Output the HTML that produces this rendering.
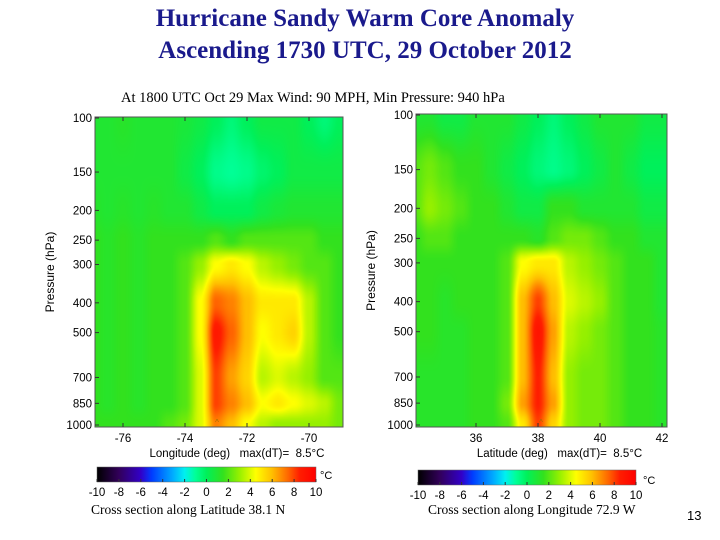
<!DOCTYPE html>
<html><head><meta charset="utf-8"><style>
body{margin:0;width:720px;height:540px;background:#fff;position:relative;overflow:hidden;font-family:"Liberation Sans",sans-serif}
.t{position:absolute;white-space:nowrap}
.title{font-family:"Liberation Serif",serif;font-weight:bold;font-size:25px;color:#1a1a8c;left:0;width:730px;text-align:center}
.ser{font-family:"Liberation Serif",serif}
canvas{position:absolute}
svg text{white-space:pre}
</style></head><body>
<div class="t title" style="top:5px">Hurricane Sandy Warm Core Anomaly</div>
<div class="t title" style="top:37px">Ascending 1730 UTC, 29 October 2012</div>
<div class="t ser" style="left:121px;top:90px;font-size:14.5px">At 1800 UTC Oct 29 Max Wind: 90 MPH, Min Pressure: 940 hPa</div>
<canvas id="c1" width="248" height="310" style="left:95px;top:117px"></canvas>
<canvas id="c2" width="251" height="313" style="left:416px;top:114px"></canvas>
<svg id="ov" width="720" height="540" style="position:absolute;left:0;top:0"></svg>
<div class="t ser" style="left:91px;top:502px;font-size:13.5px">Cross section along Latitude 38.1 N</div>
<div class="t ser" style="left:428px;top:502px;font-size:13.5px">Cross section along Longitude 72.9 W</div>
<div class="t" style="left:687px;top:508px;font-size:13px">13</div>
<script>
const levels=[100,150,200,250,300,400,500,700,850,1000];
const lons=[-77,-76.5,-76,-75.5,-75,-74.5,-74,-73.5,-73,-72.5,-72,-71.5,-71,-70.5,-70,-69.5,-69];
const lats=[34,34.5,35,35.5,36,36.5,37,37.5,38,38.5,39,39.5,40,40.5,41,41.5,42];
const leftVals=[
[1,1,1.2,1,1,1,0.8,0.5,0,-0.5,0,0.5,0.5,0.5,0,-0.5,0],
[1,1,1,1,1,1,0.5,0,-0.8,-1,-0.8,-0.3,0,0.5,0.5,0.5,0.5],
[1.2,1,1.2,1,1.2,1,1,0.5,0,0,0,0.5,0.8,1,1,1,1],
[1.5,1.2,1.5,1.2,1.5,1.5,1.5,1.5,2,1.5,2,2,2,2,2,1.5,1.5],
[1.5,1.2,1.5,1.2,1.5,1.5,2,3,4.5,5,4.5,3.5,3,2.5,2,2,1.5],
[1.5,1.2,1.5,1.2,1.5,1.5,2,4.5,7.5,7,6,5,5,5,3.5,2,1.5],
[1.5,1.2,1.5,1.2,1.5,1.5,2,4.5,8.8,7.5,6,4.5,5,5.5,3.5,2,1.5],
[1.5,1.2,1.5,1.2,1.5,1.5,2,4,8,6.5,5.5,3.5,4,3.5,3,2,2],
[1.5,1.2,1.5,1.2,1.5,1.5,2,4,8,7,6,4.5,5,4.5,4,3.5,2.5],
[1.5,1.5,1.5,1.5,1.5,2,2.5,4,7,6,4.5,3.5,3,3,3,3,2.5]];
const rightVals=[
[1,1,0.5,0.5,1,1,1,0.5,0,-0.5,0,0.5,1,1,1,0.5,0.5],
[2,2.5,2,1.5,1.5,1,0.5,0,-0.5,-0.8,-0.5,0,0.5,1,0.5,0,0],
[2,3,2.5,2,1.5,1.5,1,0.5,0.5,1.5,1.5,1,1,1,1,0.5,0.5],
[1.5,2,2,1.5,1.5,1.5,1.5,1.5,1.2,2,2.5,2.5,2,1.5,1.5,1,1],
[1.5,1.5,1.5,1.5,1.5,1.5,2,4.5,5,5,3.5,3,2.5,2,1.5,1.5,1],
[1.5,1.5,1.2,1.5,1.5,1.5,2,6,8,6,4,3.5,3,2,1.5,1.5,1],
[1.5,1.5,1.2,1.2,1.5,1.5,2,6,9,6.5,3.5,3,2.5,2,1.5,1.5,1.2],
[1.2,1.2,1.2,1.2,1.5,1.5,2,6,8.5,6,3,2.5,2.5,2,1.5,1.5,1.2],
[1.2,1.2,1.2,1.2,1.5,1.5,2.5,6.5,8.5,6.5,3,2.5,2.5,2,1.5,1.5,1.2],
[1.2,1.2,1.2,1.2,1.5,1.5,2,5,8,5.5,3,2.5,2.5,2,1.5,1.5,1.2]];
const leftTicks=[-76,-74,-72,-70];
const rightTicks=[36,38,40,42];
const cbTicks=[-10,-8,-6,-4,-2,0,2,4,6,8,10];

const stops=[[-10,[0,0,0]],[-8,[50,0,90]],[-6,[50,0,200]],[-5,[0,60,255]],[-3,[0,176,255]],[-2,[0,240,240]],[-1,[0,255,150]],[0,[0,240,90]],[1.5,[50,225,30]],[3,[150,240,0]],[4.5,[255,255,0]],[6,[255,190,0]],[7.5,[255,100,0]],[8.5,[255,30,0]],[10,[255,0,0]]];
function cmap(v){v=Math.max(-10,Math.min(10,v));for(let i=1;i<stops.length;i++){if(v<=stops[i][0]){const a=stops[i-1],b=stops[i],t=(v-a[0])/(b[0]-a[0]);return a[1].map((c,k)=>Math.round(c+(b[1][k]-c)*t));}}return stops[stops.length-1][1];}

function panel(id,xs,vals,x0,pxPerDeg,y0,y1,cx,cy){
  const cv=document.getElementById(id),ctx=cv.getContext('2d'),W=cv.width,H=cv.height;
  const img=ctx.createImageData(W,H);
  const ly=p=>y0+(Math.log10(p)-2)*(y1-y0);
  const rowY=levels.map(ly);
  for(let py=0;py<H;py++){
    const Y=cy+py+0.5;let r=0;while(r<levels.length-2&&Y>rowY[r+1])r++;
    let ty=(Y-rowY[r])/(rowY[r+1]-rowY[r]);ty=Math.max(0,Math.min(1,ty));ty=ty*ty*(3-2*ty);
    for(let px=0;px<W;px++){
      const X=cx+px+0.5;const d=(X-x0)/pxPerDeg+xs[0];
      let fi=(d-xs[0])/(xs[1]-xs[0]);fi=Math.max(0,Math.min(xs.length-1.0001,fi));
      const c=Math.floor(fi);let tx=fi-c;tx=tx*tx*(3-2*tx);
      const v=(vals[r][c]*(1-tx)+vals[r][c+1]*tx)*(1-ty)+(vals[r+1][c]*(1-tx)+vals[r+1][c+1]*tx)*ty;
      const col=cmap(v),o=(py*W+px)*4;img.data[o]=col[0];img.data[o+1]=col[1];img.data[o+2]=col[2];img.data[o+3]=255;
    }
  }
  ctx.putImageData(img,0,0);
}
panel('c1',lons,leftVals,123+(lons[0]-leftTicks[0])*31,31,118,425,95,117);
panel('c2',lats,rightVals,476+(lats[0]-rightTicks[0])*31,31,115,425,416,114);

const ov=document.getElementById('ov'),NS='http://www.w3.org/2000/svg';
function el(tag,attrs,txt){const e=document.createElementNS(NS,tag);for(const k in attrs)e.setAttribute(k,attrs[k]);if(txt!=null)e.textContent=txt;ov.appendChild(e);return e;}
function axes(L,T,R,B,y0,y1,ticks,tx0,xlabel,side,caretX){
  const f=el('rect',{x:L,y:T,width:R-L,height:B-T,fill:'none',stroke:'#555','stroke-width':1});
  
  
  levels.forEach(p=>{const y=y0+(Math.log10(p)-2)*(y1-y0);
    el('line',{x1:L,x2:L+4,y1:y,y2:y,stroke:'#333'});
    const t=el('text',{x:L-3,y:y+4,'text-anchor':'end','font-size':11.5,'font-family':'Liberation Sans, sans-serif'},p);
    
    
  });
  ticks.forEach(v=>{const x=tx0+(v-ticks[0])*31;
    el('line',{x1:x,x2:x,y1:B,y2:B-4,stroke:'#333'});el('line',{x1:x,x2:x,y1:T,y2:T+4,stroke:'#333'});
    const t=el('text',{x:x,y:B+15,'text-anchor':'middle','font-size':11.5,'font-family':'Liberation Sans, sans-serif'},v);
    
    
  });
  const xl=el('text',{x:(L+R)/2+18,y:B+30,'text-anchor':'middle','font-size':11.5,'font-family':'Liberation Sans, sans-serif'},xlabel+'   max(dT)=  8.5°C');
  
  
  const yl=el('text',{x:0,y:0,'text-anchor':'middle','font-size':12,'font-family':'Liberation Sans, sans-serif',transform:`translate(${L-41},${(T+B)/2}) rotate(-90)`},'Pressure (hPa)');
  
  
  el('text',{x:caretX,y:B-2,'text-anchor':'middle','font-size':8,fill:'#a07000'},'^');
}
axes(95,117,343,427,118,425,leftTicks,123,'Longitude (deg)','left',217);
axes(416,114,667,427,115,425,rightTicks,476,'Latitude (deg)','right',541);

function colorbar(L,T,W,H,side,unitX,unitY){
  const id='g'+side;
  const defs=el('defs',{});const g=document.createElementNS(NS,'linearGradient');g.setAttribute('id',id);defs.appendChild(g);
  stops.forEach(s=>{const st=document.createElementNS(NS,'stop');st.setAttribute('offset',((s[0]+10)/20*100)+'%');st.setAttribute('stop-color',`rgb(${s[1].join(',')})`);g.appendChild(st);});
  const r=el('rect',{x:L,y:T,width:W,height:H,fill:`url(#${id})`,stroke:'#666','stroke-width':0.5});
  
  
  cbTicks.forEach(v=>{const x=L+(v+10)/20*W;
    el('line',{x1:x,x2:x,y1:T+H,y2:T+H-3,stroke:'#333'});
    const t=el('text',{x:x,y:T+H+14,'text-anchor':'middle','font-size':11.5,'font-family':'Liberation Sans, sans-serif'},v);
    
    
  });
  const u=el('text',{x:unitX,y:unitY,'font-size':11,'font-family':'Liberation Sans, sans-serif'},'°C');
  
  
}
colorbar(97,467,219,15,'left',320,479);
colorbar(418,470,218,15,'right',643,484);
</script>
</body></html>
